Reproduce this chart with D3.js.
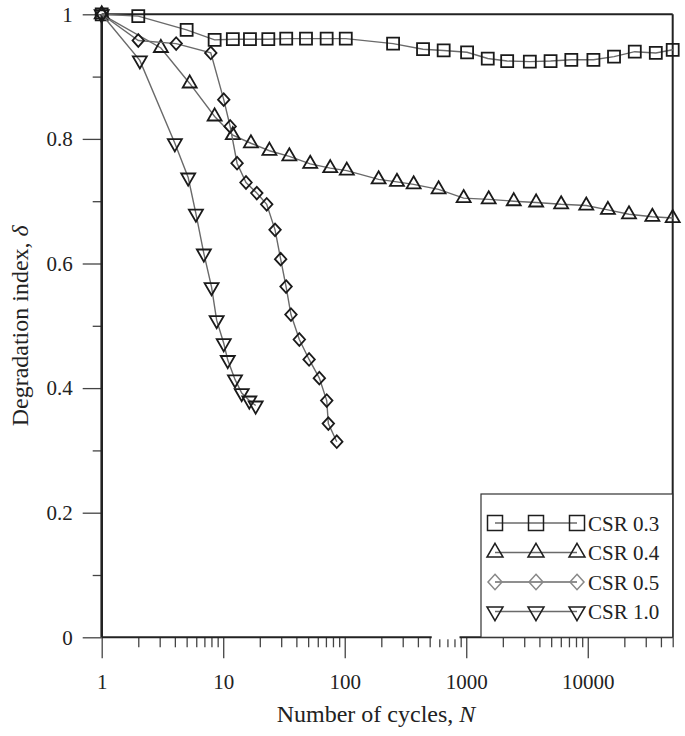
<!DOCTYPE html>
<html><head><meta charset="utf-8">
<script src="https://cdn.jsdelivr.net/npm/d3@7"></script>
<style>body{margin:0;background:#fff}svg{display:block}text{font-family:"Liberation Serif","Times New Roman",serif;fill:#222}</style>
</head><body><svg id="c" width="685" height="736"></svg>
<script>
// ---- data ----
const csr03N = [1,2,5,8.5,12,16.6,23.5,33,48,71,102,250,441,652,1016,1503,2172,3337,4942,7322,11130,16450,24380,36300,50000];
const csr03D = [1.0,0.997,0.975,0.959,0.960,0.960,0.960,0.961,0.961,0.961,0.961,0.953,0.944,0.942,0.939,0.929,0.925,0.924,0.925,0.927,0.927,0.932,0.940,0.938,0.943];
const csr04N = [1,3.07,5.3,8.5,12,16.9,24,35,52,76,104,190,269,369,592,952,1530,2460,3760,6040,9720,14650,21840,34000,50000];
const csr04D = [1.0,0.946,0.889,0.836,0.806,0.793,0.781,0.772,0.760,0.753,0.749,0.735,0.731,0.727,0.719,0.705,0.703,0.700,0.698,0.695,0.693,0.686,0.679,0.675,0.673];
const csr05N = [1,2,4.1,7.9,10.1,11.4,13.0,15.4,18.9,22.8,26.7,29.7,32.9,36.1,42.3,50.9,61.8,71.1,73.3,86];
const csr05D = [1.0,0.958,0.953,0.938,0.863,0.820,0.761,0.730,0.713,0.695,0.654,0.607,0.563,0.518,0.478,0.446,0.416,0.380,0.343,0.314];
const csr10N = [1,2.06,4.0,5.15,5.96,6.93,8.02,8.83,10.1,10.9,12.5,14.2,16.4,18.5];
const csr10D = [1.0,0.926,0.793,0.738,0.680,0.616,0.562,0.509,0.472,0.445,0.414,0.392,0.380,0.372];
const seriesNames = ["CSR 0.3","CSR 0.4","CSR 0.5","CSR 1.0"];
const xTickLabels = ["1","10","100","1000","10000"];
const yTickLabels = ["0","0.2","0.4","0.6","0.8","1"];

const series = [
  {name:seriesNames[0], N:csr03N, D:csr03D, shape:"square"},
  {name:seriesNames[1], N:csr04N, D:csr04D, shape:"up"},
  {name:seriesNames[2], N:csr05N, D:csr05D, shape:"diamond"},
  {name:seriesNames[3], N:csr10N, D:csr10D, shape:"down"}
];

const L=101.7, R=672.7, T=14.3, B=637.3;
const x = d3.scaleLog().domain([1,50000]).range([L,R]);
const y = d3.scaleLinear().domain([0,1]).range([B,T]);
const svg = d3.select("#c");

function shapePath(shape, s){
  const p = d3.path();
  if(shape==="square"){ p.rect(-s/2,-s/2,s,s); }
  else if(shape==="up"){ const h=s*0.866; p.moveTo(0,-h*2/3); p.lineTo(s/2,h/3); p.lineTo(-s/2,h/3); p.closePath(); }
  else if(shape==="down"){ const h=s*0.866; p.moveTo(0,h*2/3); p.lineTo(s/2,-h/3); p.lineTo(-s/2,-h/3); p.closePath(); }
  else { p.moveTo(0,-s*0.55); p.lineTo(s*0.5,0); p.lineTo(0,s*0.55); p.lineTo(-s*0.5,0); p.closePath(); }
  return p.toString();
}

// axes
const xMinor = [];
for(let e=0;e<5;e++) for(let k=2;k<=9;k++){ const v=k*Math.pow(10,e); if(v<=50000) xMinor.push(v); }
const xMajor = [1,10,100,1000,10000];
const gx = svg.append("g").attr("transform",`translate(0,${B})`);
gx.call(d3.axisBottom(x).tickValues(xMinor).tickSize(10).tickFormat(""))
  .call(g=>g.select(".domain").remove());
gx.append("g").call(d3.axisBottom(x).tickValues(xMajor).tickSize(21).tickPadding(16).tickFormat((d,i)=>xTickLabels[i]))
  .call(g=>g.select(".domain").remove());
gx.selectAll("line").attr("stroke","#444").attr("stroke-width",1.3);
gx.selectAll("text").attr("font-size",21).attr("fill","#222");

const gy = svg.append("g").attr("transform",`translate(${L},0)`);
gy.call(d3.axisLeft(y).tickValues(d3.range(1,10,2).map(d=>d/10)).tickSize(9).tickFormat(""))
  .call(g=>g.select(".domain").remove());
gy.append("g").call(d3.axisLeft(y).tickValues([0,0.2,0.4,0.6,0.8,1]).tickSize(19).tickPadding(10).tickFormat((d,i)=>yTickLabels[i]))
  .call(g=>g.select(".domain").remove());
gy.selectAll("line").attr("stroke","#444").attr("stroke-width",1.3);
gy.selectAll("text").attr("font-size",21).attr("fill","#222");

// frame
svg.append("line").attr("x1",L).attr("x2",R).attr("y1",T).attr("y2",T).attr("stroke","#222").attr("stroke-width",2);
svg.append("line").attr("x1",R).attr("x2",R).attr("y1",T).attr("y2",B).attr("stroke","#222").attr("stroke-width",2);
svg.append("line").attr("x1",L).attr("x2",R).attr("y1",B).attr("y2",B).attr("stroke","#222").attr("stroke-width",2);
svg.append("line").attr("x1",L).attr("x2",L).attr("y1",T).attr("y2",B).attr("stroke","#222").attr("stroke-width",2.6);
// gap in bottom axis line (as in source image)
svg.append("rect").attr("x",x(520)).attr("y",B-2).attr("width",x(880)-x(520)).attr("height",4).attr("fill","#fff");

// series
const line = d3.line().x(d=>x(d[0])).y(d=>y(d[1]));
series.forEach(s=>{
  const pts = s.N.map((n,i)=>[n,s.D[i]]);
  svg.append("path").attr("d",line(pts)).attr("fill","none").attr("stroke","#6a6a6a").attr("stroke-width",1.4);
  svg.append("g").selectAll("path").data(pts).join("path")
    .attr("transform",d=>`translate(${x(d[0])},${y(d[1])})`)
    .attr("d",shapePath(s.shape, s.shape==="square"?12:(s.shape==="diamond"?11.5:14)))
    .attr("fill","none").attr("stroke","#1a1a1a").attr("stroke-width",1.8);
});

// legend
const lg = svg.append("g");
lg.append("rect").attr("x",481).attr("y",494).attr("width",R-481).attr("height",B-494).attr("fill","#fff").attr("stroke","#333").attr("stroke-width",1.2);
series.forEach((s,i)=>{
  const yy = 523 + i*29.5;
  lg.append("line").attr("x1",495).attr("x2",577).attr("y1",yy).attr("y2",yy).attr("stroke","#6a6a6a").attr("stroke-width",1.4);
  [495,536,577].forEach(xx=>{
    lg.append("path").attr("transform",`translate(${xx},${yy})`).attr("d",shapePath(s.shape, s.shape==="square"?15:(s.shape==="diamond"?14:16)))
      .attr("fill","none").attr("stroke",s.shape==="diamond"?"#888":"#1e1e1e").attr("stroke-width",1.5);
  });
  lg.append("text").attr("x",588).attr("y",yy+7.5).attr("font-size",21).text(s.name);
});

// axis titles
const xt = svg.append("text").attr("x",376).attr("y",722).attr("text-anchor","middle").attr("font-size",24);
xt.append("tspan").text("Number of cycles, ");
xt.append("tspan").attr("font-style","italic").text("N");
const yt = svg.append("text").attr("transform",`translate(28,${(T+B)/2}) rotate(-90)`).attr("text-anchor","middle").attr("font-size",24);
yt.append("tspan").text("Degradation index, ");
yt.append("tspan").attr("font-style","italic").text("δ");
</script></body></html>
